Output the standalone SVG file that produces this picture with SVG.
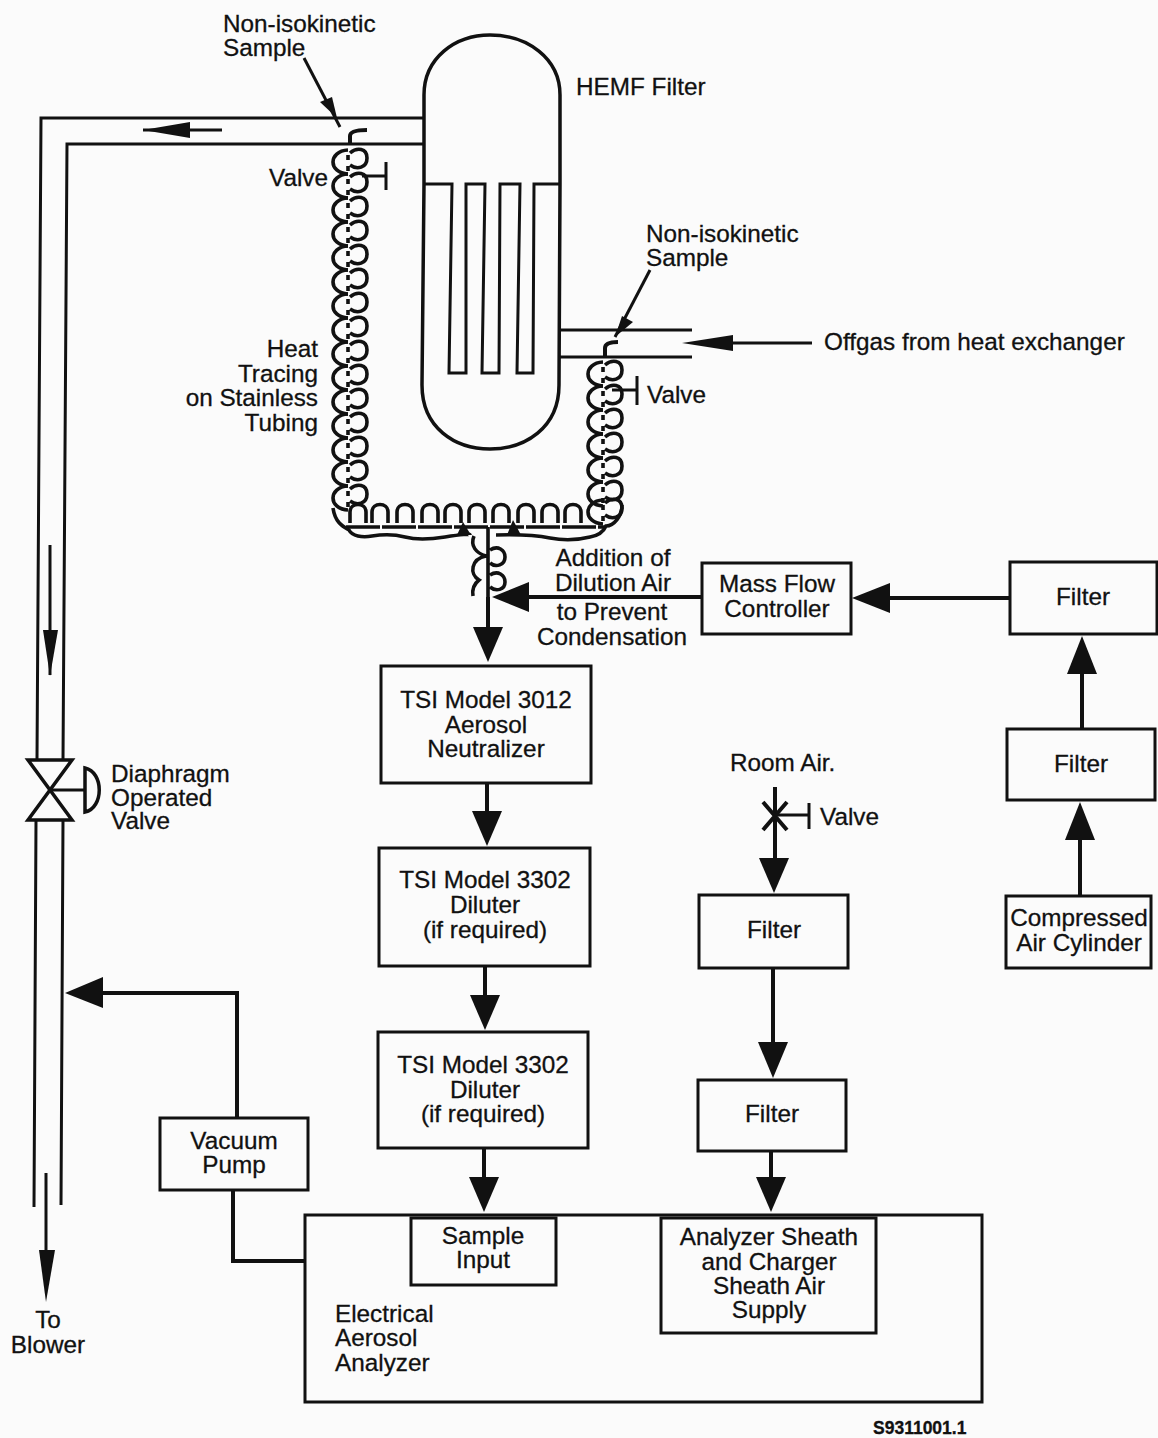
<svg xmlns="http://www.w3.org/2000/svg" width="1158" height="1438" viewBox="0 0 1158 1438">
<style>
text{font-family:"Liberation Sans",Arial,sans-serif;font-size:24.3px;fill:#111;stroke:#111;stroke-width:.3}
.m{text-anchor:middle}.e{text-anchor:end}
.b{fill:none;stroke:#111;stroke-width:3}
.t{fill:none;stroke:#111;stroke-width:3.5}
.c{fill:none;stroke:#111;stroke-width:3.6}
.a{fill:#111;stroke:none}
.h{fill:none;stroke:#111;stroke-width:4}
</style>
<defs>
<g id="cv"><path class="c" d="M-1 0C-21 1-21 23-1 24M1 3C8-3 18-2 18 8C18 18 8 20 1 15M-1 5V10M-1 16V21"/></g>
<g id="ch"><path class="c" d="M-10 18V7C-10-3 6-3 6 7V18"/></g>
</defs>
<rect width="1158" height="1438" fill="#fbfbfb"/>
<g id="connectors">
<path class="b" d="M424 118H41L37 760M424 144H67L63 760M36 820L34 1207M63 820L61 1205"/>
<path class="b" d="M143 130H222"/><path class="a" d="M143 130L190 122V138Z"/>
<path class="b" d="M50 545V675"/><path class="a" d="M50 676L43 630H58Z"/>
<path class="b" d="M46 1173V1260"/><path class="a" d="M46 1302L39 1250H55Z"/>
<path class="b" d="M304 58L340 127"/><path class="a" d="M337 118L320 102L332 97Z"/>
<path class="h" d="M350 144V136Q350 130 367 130"/>
<path class="b" d="M362 176H386M386 162V190"/>
<path class="b" d="M560 330H692M560 357H692"/>
<path class="b" d="M733 343H812"/><path class="a" d="M682 343L733 335V351Z"/>
<path class="b" d="M650 270L615 337"/><path class="a" d="M615 337L622 316L633 322Z"/>
<path class="h" d="M605 357V348Q605 342 618 342"/>
<path class="b" d="M612 390H637M637 376V405"/>
<g id="coil-left">
<use href="#cv" x="349" y="150"/><use href="#cv" x="349" y="174"/><use href="#cv" x="349" y="198"/><use href="#cv" x="349" y="222"/><use href="#cv" x="349" y="246"/><use href="#cv" x="349" y="270"/><use href="#cv" x="349" y="294"/><use href="#cv" x="349" y="318"/><use href="#cv" x="349" y="342"/><use href="#cv" x="349" y="366"/><use href="#cv" x="349" y="390"/><use href="#cv" x="349" y="414"/><use href="#cv" x="349" y="438"/><use href="#cv" x="349" y="462"/><use href="#cv" x="349" y="486"/>
</g>
<g id="coil-right">
<use href="#cv" x="604" y="362"/><use href="#cv" x="604" y="386"/><use href="#cv" x="604" y="410"/><use href="#cv" x="604" y="434"/><use href="#cv" x="604" y="458"/><use href="#cv" x="604" y="482"/><use href="#cv" x="604" y="500"/>
</g>
<g id="coil-bottom">
<use href="#ch" x="360" y="505"/><use href="#ch" x="382" y="505"/><use href="#ch" x="407" y="505"/><use href="#ch" x="432" y="505"/><use href="#ch" x="455" y="505"/><use href="#ch" x="479" y="505"/><use href="#ch" x="503" y="505"/><use href="#ch" x="528" y="505"/><use href="#ch" x="552" y="505"/><use href="#ch" x="575" y="505"/>
<path class="c" d="M346 527H606" stroke-dasharray="34 2"/>
<path class="c" d="M333 508C335 522 342 526 349 530C352 536 362 538 372 536Q390 533 405 537T445 537T470 535M496 535Q530 534 550 538T590 537Q602 535 606 526C614 526 622 516 622 505"/>
<path class="a" d="M463 522L457 535H471ZM513 520L507 535H521Z"/>
</g>
<g id="coil-center">
<path class="c" d="M488 527V597M474 536C470 546 476 553 486 556C471 559 469 574 479 580C474 584 472 590 473 596M490 550C498 545 505 550 505 557C505 565 496 568 490 563M490 575C498 570 505 575 505 582C505 590 496 592 490 587"/>
</g>
<path class="h" d="M488 597V628"/><path class="a" d="M488 662L473 627H503Z"/>
<path class="h" d="M528 597H702"/><path class="a" d="M492 597L529 582V612Z"/>
<path class="h" d="M888 598H1010"/><path class="a" d="M852 598L890 583V613Z"/>
<path class="h" d="M1082 729V672"/><path class="a" d="M1082 636L1097 674H1067Z"/>
<path class="h" d="M1080 896V838"/><path class="a" d="M1080 802L1095 840H1065Z"/>
<path class="h" d="M487 783V815"/><path class="a" d="M487 846L472 811H502Z"/>
<path class="h" d="M485 966V998"/><path class="a" d="M485 1030L470 995H500Z"/>
<path class="h" d="M484 1148V1178"/><path class="a" d="M484 1212L469 1177H499Z"/>
<path class="h" d="M775 787V860"/><path class="a" d="M774 893L759 858H789Z"/>
<path class="h" d="M773 968V1044"/><path class="a" d="M773 1078L758 1042H788Z"/>
<path class="h" d="M771 1151V1178"/><path class="a" d="M771 1212L756 1177H786Z"/>
<path class="h" d="M233 1190V1261H305"/>
<path class="h" d="M237 1118V993H100"/><path class="a" d="M65 993L103 977V1008Z"/>
<path class="h" d="M763 802L787 830M787 802L763 830"/>
<path class="b" d="M775 815H809M809 803V829"/>
</g>
<g id="hemf-filter">
<path class="t" d="M424 118V95C424 58 455 35 490 35C527 35 560 58 560 95V184L559 385C559 428 525 449 490 449C455 449 422 428 422 385L424 184V118"/>
<path class="b" d="M424 184H452L449 373H466V184H485L482 373H499L500 184H520L517 373H533L534 184H560"/>
</g>
<g id="diaphragm-valve">
<path class="t" d="M28 760H72L28 820H72Z"/>
<path class="b" d="M50 790H85"/>
<path class="t" d="M85 768C104 772 104 808 85 812Z"/>
</g>
<g id="mass-flow"><rect class="b" x="702" y="563" width="149" height="71"/><text class="m" x="777" y="592">Mass Flow</text><text class="m" x="777" y="617">Controller</text></g>
<g id="filter-1"><rect class="b" x="1010" y="562" width="147" height="72"/><text class="m" x="1083" y="605">Filter</text></g>
<g id="filter-2"><rect class="b" x="1007" y="729" width="148" height="71"/><text class="m" x="1081" y="772">Filter</text></g>
<g id="compressed"><rect class="b" x="1006" y="896" width="145" height="72"/><text class="m" x="1079" y="926">Compressed</text><text class="m" x="1079" y="951">Air Cylinder</text></g>
<g id="neutralizer"><rect class="b" x="381" y="666" width="210" height="117"/><text class="m" x="486" y="708">TSI Model 3012</text><text class="m" x="486" y="733">Aerosol</text><text class="m" x="486" y="757">Neutralizer</text></g>
<g id="diluter-1"><rect class="b" x="379" y="848" width="211" height="118"/><text class="m" x="485" y="888">TSI Model 3302</text><text class="m" x="485" y="913">Diluter</text><text class="m" x="485" y="938">(if required)</text></g>
<g id="diluter-2"><rect class="b" x="378" y="1032" width="210" height="116"/><text class="m" x="483" y="1073">TSI Model 3302</text><text class="m" x="485" y="1098">Diluter</text><text class="m" x="483" y="1122">(if required)</text></g>
<g id="filter-3"><rect class="b" x="699" y="895" width="149" height="73"/><text class="m" x="774" y="938">Filter</text></g>
<g id="filter-4"><rect class="b" x="698" y="1080" width="148" height="71"/><text class="m" x="772" y="1122">Filter</text></g>
<g id="vacuum"><rect class="b" x="160" y="1118" width="148" height="72"/><text class="m" x="234" y="1149">Vacuum</text><text class="m" x="234" y="1173">Pump</text></g>
<g id="analyzer"><rect class="b" x="305" y="1215" width="677" height="187"/><text x="335" y="1322">Electrical</text><text x="335" y="1346">Aerosol</text><text x="335" y="1371">Analyzer</text></g>
<g id="sample-input"><rect class="b" x="411" y="1218" width="145" height="67"/><text class="m" x="483" y="1244">Sample</text><text class="m" x="483" y="1268">Input</text></g>
<g id="sheath"><rect class="b" x="661" y="1218" width="215" height="115"/><text class="m" x="769" y="1245">Analyzer Sheath</text><text class="m" x="769" y="1270">and Charger</text><text class="m" x="769" y="1294">Sheath Air</text><text class="m" x="769" y="1318">Supply</text></g>
<g id="labels">
<text x="223" y="32">Non-isokinetic</text><text x="223" y="56">Sample</text>
<text x="576" y="95">HEMF Filter</text>
<text class="e" x="328" y="186">Valve</text>
<text x="646" y="242">Non-isokinetic</text><text x="646" y="266">Sample</text>
<text x="824" y="350">Offgas from heat exchanger</text>
<text x="647" y="403">Valve</text>
<text class="e" x="318" y="357">Heat</text><text class="e" x="318" y="382">Tracing</text><text class="e" x="318" y="406">on Stainless</text><text class="e" x="318" y="431">Tubing</text>
<text class="m" x="613" y="566">Addition of</text><text class="m" x="613" y="591">Dilution Air</text><text class="m" x="612" y="620">to Prevent</text><text class="m" x="612" y="645">Condensation</text>
<text x="111" y="782">Diaphragm</text><text x="111" y="806">Operated</text><text x="111" y="829">Valve</text>
<text x="730" y="771">Room Air.</text>
<text x="820" y="825">Valve</text>
<text class="m" x="48" y="1328">To</text><text class="m" x="48" y="1353">Blower</text>
<text x="873" y="1434" style="font-size:17.5px;font-weight:bold">S9311001.1</text>
</g>
</svg>
